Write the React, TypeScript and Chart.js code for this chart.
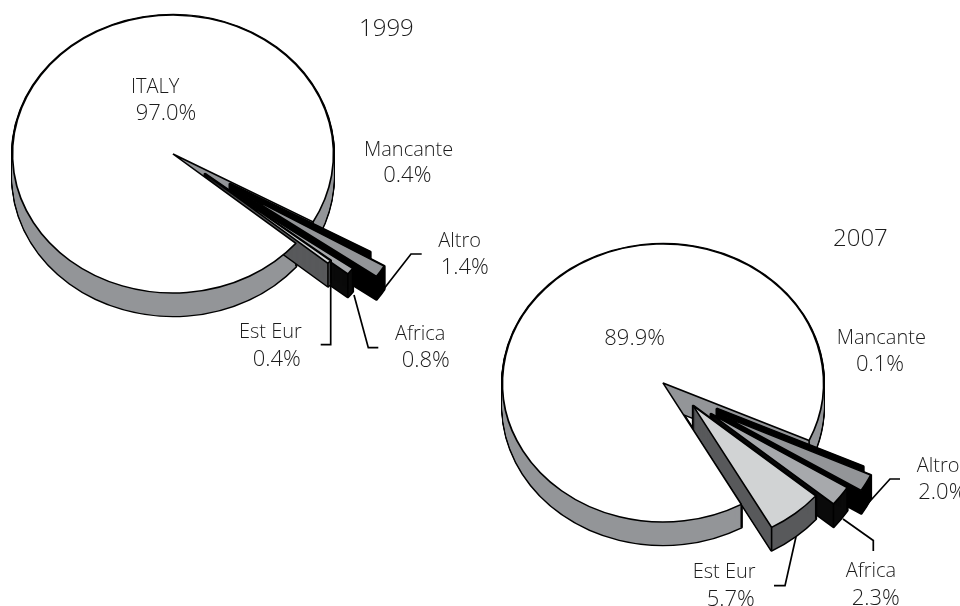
import { useEffect, useRef } from "react";
import { Chart, registerables } from "chart.js";

Chart.register(...registerables);

const categories = ["ITALY", "Mancante", "Altro", "Africa", "Est Eur"];
const values1999 = [97.0, 0.4, 1.4, 0.8, 0.4];
const values2007 = [89.9, 0.1, 2.0, 2.3, 5.7];
const topColours = ["#ffffff", "#000000", "#939598", "#a7a9ac", "#d1d3d4"];
const wallColours = ["#939598", "#000000", "#000000", "#0a0a0a", "#58595b"];

const RADIUS = 160.5;
const SQUASH = 0.866;
const DEPTH = 23;
const NAME_FONT = '300 20px "Open Sans"';
const VALUE_FONT = '300 22px "Open Sans"';
const TITLE_FONT = '300 24px "Open Sans"';
const INK = "#1c1c1c";

type Label = { name: string | null; nx: number; ny: number; vx: number; vy: number };

type PieLayout = {
  title: string;
  titleX: number;
  titleY: number;
  cx: number;
  cy: number;
  rotation: number;
  explode: number[][];
  labels: Label[];
  leaders: number[][][];
};

const layout1999: PieLayout = {
  title: "1999",
  titleX: 359,
  titleY: 36,
  cx: 173,
  cy: 154,
  rotation: 130,
  explode: [[0, 0], [57, 30], [73, 41.4], [49.3, 33.3], [32, 20]],
  labels: [
    { name: categories[0], nx: 131, ny: 92.7, vx: 135.7, vy: 120 },
    { name: categories[1], nx: 364, ny: 156, vx: 383.3, vy: 182.3 },
    { name: categories[2], nx: 438.3, ny: 246.7, vx: 440.7, vy: 274 },
    { name: categories[3], nx: 395, ny: 340, vx: 401.7, vy: 367.3 },
    { name: categories[4], nx: 239, ny: 338.3, vx: 252.7, vy: 365.7 },
  ],
  leaders: [
    [[421.7, 254], [411, 254], [383, 290]],
    [[378.3, 347.7], [368.3, 347.7], [354, 295]],
    [[320.7, 344.7], [330.7, 344.7], [330.7, 285]],
  ],
};

const layout2007: PieLayout = {
  title: "2007",
  titleX: 833,
  titleY: 246,
  cx: 663,
  cy: 383,
  rotation: 150.8,
  explode: [[0, 0], [54, 26], [62, 33.8], [48, 31], [30.3, 23]],
  labels: [
    { name: null, nx: 0, ny: 0, vx: 604.3, vy: 345.3 },
    { name: categories[1], nx: 836.7, ny: 344.3, vx: 856, vy: 371 },
    { name: categories[2], nx: 916.7, ny: 472.3, vx: 918.3, vy: 499.3 },
    { name: categories[3], nx: 845.7, ny: 577.3, vx: 851.7, vy: 605 },
    { name: categories[4], nx: 692.7, ny: 578.3, vx: 706.7, vy: 605.7 },
  ],
  leaders: [
    [[900, 479], [890, 479], [862, 510]],
    [[873.3, 551], [873.3, 540.5], [843, 519]],
    [[774, 585.7], [785, 585.7], [796, 536.7]],
  ],
};

// Extruded, exploded slices on an elliptical base: the arcs computed by the
// pie controller are redrawn in a squashed space with a side wall beneath them.
function pie3d(layout: PieLayout, values: number[]) {
  return {
    id: "pie3d",
    beforeDatasetsDraw(chart: any) {
      const ctx = chart.ctx;
      const arcs = chart.getDatasetMeta(0).data;

      const place = (arc: any, i: number, lift: number) => {
        const [dx, dy] = layout.explode[i];
        ctx.translate(layout.cx + dx, layout.cy + dy + lift);
        ctx.scale(1, SQUASH);
        ctx.translate(-arc.x, -arc.y);
      };

      const drawWall = (arc: any, i: number) => {
        const [dx, dy] = layout.explode[i];
        const wedge = () => {
          ctx.beginPath();
          ctx.moveTo(arc.x, arc.y);
          ctx.arc(arc.x, arc.y, arc.outerRadius, arc.startAngle, arc.endAngle);
          ctx.closePath();
        };
        ctx.save();
        ctx.lineJoin = "round";
        ctx.strokeStyle = "#000000";
        ctx.lineWidth = 3;
        for (let d = 0; d <= DEPTH; d++) {
          ctx.save();
          place(arc, i, d);
          wedge();
          ctx.stroke();
          ctx.restore();
        }
        ctx.fillStyle = wallColours[i];
        for (let d = 0; d <= DEPTH; d++) {
          ctx.save();
          place(arc, i, d);
          wedge();
          ctx.fill();
          ctx.restore();
        }
        // Vertical edges where the rim meets the cut faces.
        ctx.lineWidth = 1.6;
        [arc.startAngle, arc.endAngle].forEach((a: number) => {
          const x = layout.cx + dx + Math.cos(a) * arc.outerRadius;
          const y = layout.cy + dy + Math.sin(a) * arc.outerRadius * SQUASH;
          ctx.beginPath();
          ctx.moveTo(x, y);
          ctx.lineTo(x, y + DEPTH);
          ctx.stroke();
        });
        ctx.restore();
      };

      const drawTop = (arc: any, i: number) => {
        ctx.save();
        place(arc, i, 0);
        arc.draw(ctx);
        ctx.restore();
      };

      // The large slice's face goes last, so it hides the walls of the
      // exploded slices that fall behind its cut edge.
      drawWall(arcs[0], 0);
      for (let i = 1; i < arcs.length; i++) {
        drawWall(arcs[i], i);
        drawTop(arcs[i], i);
      }
      drawTop(arcs[0], 0);
      return false;
    },
    afterDraw(chart: any) {
      const ctx = chart.ctx;
      ctx.save();
      ctx.strokeStyle = "#000000";
      ctx.lineWidth = 1.7;
      layout.leaders.forEach((pts) => {
        ctx.beginPath();
        pts.forEach(([x, y], k) => (k ? ctx.lineTo(x, y) : ctx.moveTo(x, y)));
        ctx.stroke();
      });
      ctx.fillStyle = INK;
      ctx.textAlign = "left";
      ctx.textBaseline = "alphabetic";
      ctx.font = TITLE_FONT;
      ctx.fillText(layout.title, layout.titleX, layout.titleY);
      layout.labels.forEach((l, i) => {
        ctx.font = NAME_FONT;
        if (l.name) ctx.fillText(l.name, l.nx, l.ny);
        ctx.font = VALUE_FONT;
        ctx.fillText(values[i].toFixed(1) + "%", l.vx, l.vy);
      });
      ctx.restore();
    },
  };
}

function makeChart(canvas: HTMLCanvasElement, layout: PieLayout, values: number[]) {
  return new Chart(canvas, {
    type: "pie",
    data: {
      labels: categories,
      datasets: [
        {
          data: values,
          backgroundColor: topColours,
          borderColor: "#000000",
          borderWidth: 1.7,
          radius: RADIUS,
        },
      ],
    },
    options: {
      responsive: false,
      animation: false,
      rotation: layout.rotation,
      radius: RADIUS,
      layout: { padding: 0 },
      plugins: { legend: { display: false }, tooltip: { enabled: false }, title: { display: false } },
    },
    plugins: [pie3d(layout, values)],
  } as any);
}

const canvasStyle: React.CSSProperties = { position: "absolute", left: 0, top: 0 };

export default function App() {
  const first = useRef<HTMLCanvasElement>(null);
  const second = useRef<HTMLCanvasElement>(null);

  useEffect(() => {
    const a = makeChart(first.current!, layout1999, values1999);
    const b = makeChart(second.current!, layout2007, values2007);
    return () => {
      a.destroy();
      b.destroy();
    };
  }, []);

  return (
    <div style={{ position: "absolute", left: 0, top: 0, width: 960, height: 606, overflow: "hidden", background: "#fff" }}>
      <canvas ref={first} width={960} height={606} style={canvasStyle} />
      <canvas ref={second} width={960} height={606} style={canvasStyle} />
    </div>
  );
}
